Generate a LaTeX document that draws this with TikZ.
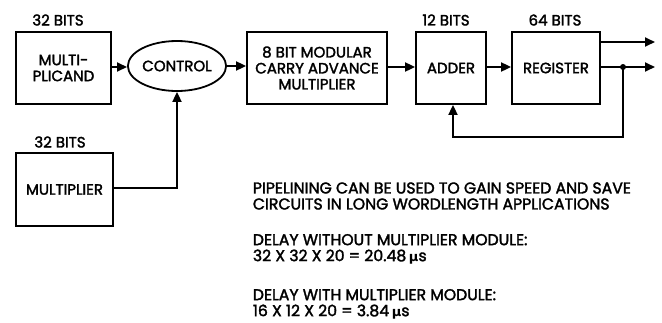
\documentclass[tikz,border=0pt]{standalone}
\usepackage{fontspec}
\setmainfont{Poppins}[FakeBold=2]
\newfontfamily\mufont{DejaVu Sans}
\usetikzlibrary{arrows.meta,shapes.geometric}
\begin{document}
\begin{tikzpicture}[x=1pt,y=-1pt,
  line width=1.8pt,
  every node/.style={font=\fontsize{15}{16}\selectfont, inner sep=0pt, align=center},
  blk/.style={draw, rectangle, line width=1.8pt},
  lbl/.style={font=\fontsize{15}{16}\selectfont},
  arr/.style={-{Triangle[length=10pt,width=9pt]}},
  txt/.style={anchor=west, align=left, font=\fontsize{15.7}{16}\selectfont}]
\useasboundingbox (0,0) rectangle (662,322);
\node[blk, minimum width=95pt, minimum height=72pt] (mcand) at (63.5,68) {MULTI-\\PLICAND};
\node[blk, minimum width=97pt, minimum height=73pt] (mplier) at (64.5,189.5) {MULTIPLIER};
\node[draw, ellipse, minimum width=87pt, minimum height=50pt, line width=1.8pt] (ctrl) at (177,66) {CONTROL};
\node[blk, minimum width=140pt, minimum height=72pt] (cam) at (317,68) {8 BIT MODULAR\\CARRY ADVANCE\\MULTIPLIER};
\node[blk, minimum width=70pt, minimum height=72pt] (adder) at (451,68) {ADDER};
\node[blk, minimum width=88pt, minimum height=72pt] (reg) at (556,68) {REGISTER};
\node[lbl] (l1) at (58,20) {32 BITS};
\node[lbl] (l2) at (60,142) {32 BITS};
\node[lbl] (l3) at (446,20) {12 BITS};
\node[lbl] (l4) at (555,20) {64 BITS};
\coordinate (o1) at (655,42);
\coordinate (o2) at (655,67);
\coordinate (dot) at (623,67);
\coordinate (fb1) at (623,137);
\coordinate (fb2) at (453,137);
\coordinate (cin) at (177,188);
\draw[arr] (mcand.east |- 0,67) -- (ctrl.west |- 0,67);
\draw[arr] (ctrl.east |- 0,66) -- (cam.west |- 0,66);
\draw[arr] (cam.east |- 0,67) -- (adder.west |- 0,67);
\draw[arr] (adder.east |- 0,67) -- (reg.west |- 0,67);
\draw[arr] (reg.east |- o1) -- (o1);
\draw[arr] (reg.east |- o2) -- (o2);
\fill (dot) circle (3pt);
\draw[arr] (dot) -- (fb1) -- (fb2) -- (adder.south -| fb2);
\draw[arr] (mplier.east |- cin) -- (cin) -- (ctrl.south);
\node[txt] (t1) at (252,196) {PIPELINING CAN BE USED TO GAIN SPEED AND SAVE\\CIRCUITS IN LONG WORDLENGTH APPLICATIONS};
\node[txt] (t2) at (252,249) {DELAY WITHOUT MULTIPLIER MODULE:\\32 X 32 X 20 = 20.48\,{\mufont\bfseries\fontsize{13}{14}\selectfont μ}s};
\node[txt] (t3) at (252,304) {DELAY WITH MULTIPLIER MODULE:\\16 X 12 X 20 = 3.84\,{\mufont\bfseries\fontsize{13}{14}\selectfont μ}s};
\end{tikzpicture}
\end{document}
